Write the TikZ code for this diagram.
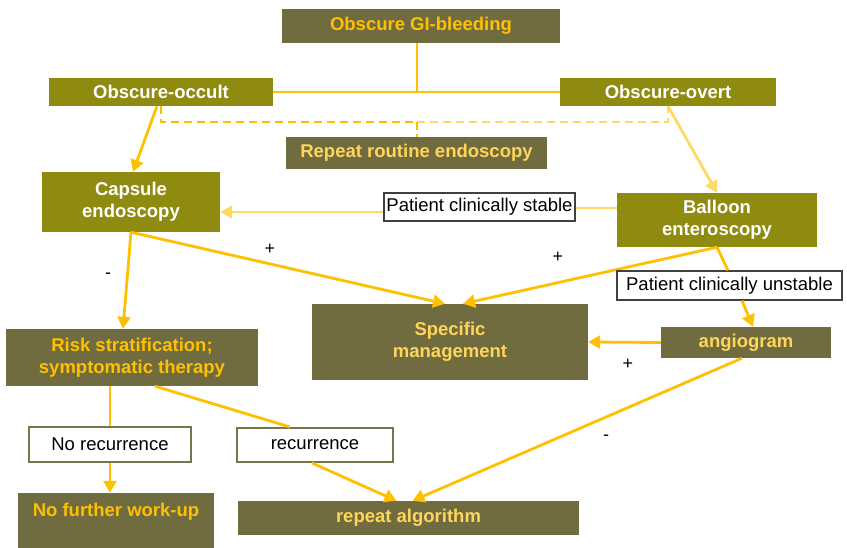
\documentclass[tikz,border=0pt]{standalone}
\usepackage{fontspec}
\setmainfont{Liberation Sans}
\usetikzlibrary{arrows.meta}
\definecolor{olivedark}{HTML}{706C3F}
\definecolor{olivebright}{HTML}{8F8A10}
\definecolor{ystrong}{HTML}{FFC000}
\definecolor{ypale}{HTML}{FFD55A}
\definecolor{lpale}{HTML}{FFD966}
\definecolor{bordgray}{HTML}{404040}
\definecolor{bordolive}{HTML}{77764A}
\tikzset{
  every node/.style={inner sep=0pt, font=\fontsize{18.5}{22}\selectfont},
  darkbox/.style={fill=olivedark, align=center, font=\bfseries\fontsize{18.5}{22}\selectfont},
  brightbox/.style={fill=olivebright, text=white, align=center, font=\bfseries\fontsize{18.5}{22}\selectfont},
  greybox/.style={fill=white, draw=bordgray, line width=1.2pt, text=black},
  olivebox/.style={fill=white, draw=bordolive, line width=2pt, text=black},
  yl/.style={draw=ystrong, line width=2.8pt},
  ylp/.style={draw=lpale, line width=2.8pt},
  tip/.style={-{Triangle[length=12pt,width=13pt]}},
  sign/.style={font=\fontsize{18}{20}\selectfont, text=black}
}
\begin{document}
\begin{tikzpicture}[x=1pt,y=-1pt]
\useasboundingbox (0,0) rectangle (847,548);
% nodes
\node[darkbox, text=ystrong, minimum width=278, minimum height=34] (gi) at (421,26) {Obscure GI-bleeding};
\node[brightbox, minimum width=224, minimum height=28] (occ) at (161,92) {Obscure-occult};
\node[brightbox, minimum width=216, minimum height=28] (ovt) at (668,92) {Obscure-overt};
\node[darkbox, text=ypale, minimum width=261, minimum height=32] (rre) at (416.5,153) {Repeat routine endoscopy};
\node[brightbox, minimum width=178, minimum height=60] (cap) at (131,202) {Capsule\\endoscopy};
\node[brightbox, minimum width=200, minimum height=54] (bal) at (717,220) {Balloon\\enteroscopy};
\node[darkbox, text=ypale, minimum width=276, minimum height=76] (spec) at (450,342) {Specific\\management};
\node[darkbox, text=ypale, minimum width=170, minimum height=31] (ang) at (746,342.5) {angiogram};
\node[darkbox, text=ystrong, minimum width=252, minimum height=57] (risk) at (132,357.5) {Risk stratification;\\symptomatic therapy};
\node[darkbox, minimum width=196, minimum height=55] (nofur) at (116,520.5) {};
\node[text=ystrong, font=\bfseries\fontsize{18.5}{22}\selectfont] (nofurtxt) at (116,512) {No further work-up};
\node[darkbox, text=ypale, minimum width=341, minimum height=34] (rep) at (408.5,518) {repeat algorithm};
% connectors
\draw[yl] ([xshift=-4pt]gi.south) -- ([xshift=-4pt]gi.south |- occ.east);
\draw[yl] (occ.east) -- (ovt.west);
\draw[yl, dash pattern=on 8pt off 5pt] (occ.south) -- (occ.south |- 0,122) -- (417,122);
\draw[ylp, dash pattern=on 8pt off 5pt] (417,122) -- (ovt.south |- 0,122) -- (ovt.south);
\draw[yl, dash pattern=on 8pt off 4pt] (417,122) -- (417,137);
\draw[yl, tip] ([xshift=-4pt]occ.south) -- ([xshift=2pt]cap.north);
\draw[ylp, tip] (ovt.south) -- (bal.north);
% white label boxes
\draw[lpale, line width=1.8pt] ([yshift=12pt]bal.west) -- (575,208);
\draw[lpale, line width=1.8pt, tip] (384,212) -- ([yshift=-10pt]cap.east);
\node[greybox, minimum width=191, minimum height=28] (stable) at (479.5,207) {Patient clinically stable};
\draw[yl, tip] (cap.south) -- ([xshift=-5pt]spec.north);
\draw[yl, tip] (bal.south) -- ([xshift=13pt]spec.north);
\node[greybox, minimum width=225, minimum height=29] (unstable) at (729.5,285.5) {Patient clinically unstable};
\draw[yl] (bal.south) -- ([xshift=-1.5pt]unstable.north);
\draw[yl, tip] ([xshift=12.5pt]unstable.south) -- ([xshift=7pt]ang.north);
\draw[yl, tip] (ang.west) -- (spec.east);
\draw[yl, tip] ([xshift=-4pt]ang.south) -- ([xshift=4pt]rep.north);
\draw[yl, tip] (cap.south) -- ([xshift=-9pt]risk.north);
\node[olivebox, minimum width=162, minimum height=35] (norec) at (110,444.5) {No recurrence};
\node[olivebox, minimum width=156, minimum height=34] (rec) at (315,445) {recurrence};
\draw[yl] (risk.south -| norec.north) -- (norec.north);
\draw[yl, tip] (norec.south) -- (norec.south |- nofur.north);
\draw[yl] ([xshift=23pt]risk.south) -- ([xshift=-25pt]rec.north);
\draw[yl, tip] ([xshift=-3pt]rec.south) -- ([xshift=-12pt]rep.north);
% signs
\node[sign] (s1) at (270,249) {+};
\node[sign] (s2) at (558,257) {+};
\node[sign] (s3) at (108,276) {-};
\node[sign] (s4) at (628,364) {+};
\node[sign] (s5) at (606,438) {-};
\end{tikzpicture}
\end{document}
